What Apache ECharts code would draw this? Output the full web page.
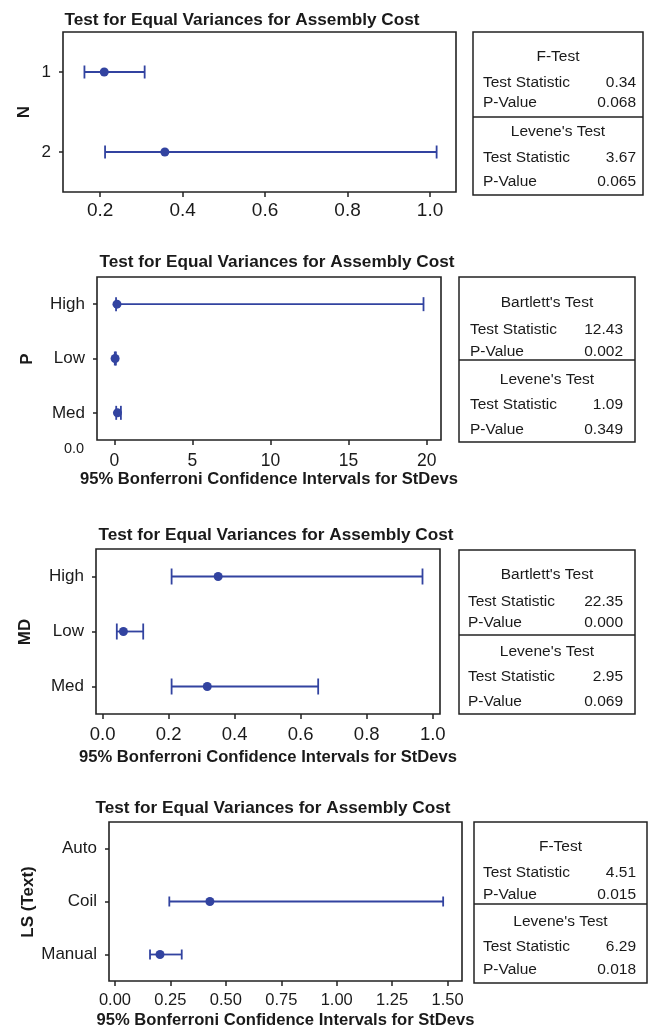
<!DOCTYPE html>
<html>
<head>
<meta charset="utf-8">
<script src="https://cdn.jsdelivr.net/npm/echarts@6/dist/echarts.min.js"></script>
<style>
html,body{margin:0;padding:0;background:#fff;}
#chart{width:651px;height:1030px;}
</style>
</head>
<body>
<div id="chart"></div>
<script>
// ---------- DATA ----------
const chartTitle = 'Test for Equal Variances for Assembly Cost';
const xAxisName = '95% Bonferroni Confidence Intervals for StDevs';

const factorNames = ['N', 'P', 'MD', 'LS (Text)'];

const cats1 = ['1', '2'];
const lower1 = [0.162, 0.212];
const point1 = [0.210, 0.357];
const upper1 = [0.308, 1.016];

const cats2 = ['High', 'Low', 'Med'];
const lower2 = [0.11, 0.03, 0.12];
const point2 = [0.17, 0.05, 0.20];
const upper2 = [19.80, 0.10, 0.42];

const cats3 = ['High', 'Low', 'Med'];
const lower3 = [0.209, 0.043, 0.209];
const point3 = [0.350, 0.063, 0.317];
const upper3 = [0.969, 0.123, 0.653];

const cats4 = ['Auto', 'Coil', 'Manual'];
const lower4 = [null, 0.245, 0.158];
const point4 = [null, 0.428, 0.203];
const upper4 = [null, 1.480, 0.301];

const xTicks1 = [0.2, 0.4, 0.6, 0.8, 1.0];
const xTickLabels1 = ['0.2', '0.4', '0.6', '0.8', '1.0'];
const xTicks2 = [0, 5, 10, 15, 20];
const xTickLabels2 = ['0', '5', '10', '15', '20'];
const xTicks3 = [0, 0.2, 0.4, 0.6, 0.8, 1.0];
const xTickLabels3 = ['0.0', '0.2', '0.4', '0.6', '0.8', '1.0'];
const xTicks4 = [0, 0.25, 0.5, 0.75, 1.0, 1.25, 1.5];
const xTickLabels4 = ['0.00', '0.25', '0.50', '0.75', '1.00', '1.25', '1.50'];

const testNames1 = ['F-Test', "Levene's Test"];
const testStats1 = ['0.34', '0.068', '3.67', '0.065'];
const testNames2 = ["Bartlett's Test", "Levene's Test"];
const testStats2 = ['12.43', '0.002', '1.09', '0.349'];
const testNames3 = ["Bartlett's Test", "Levene's Test"];
const testStats3 = ['22.35', '0.000', '2.95', '0.069'];
const testNames4 = ['F-Test', "Levene's Test"];
const testStats4 = ['4.51', '0.015', '6.29', '0.018'];
const rowLabels = ['Test Statistic', 'P-Value'];

// ---------- LAYOUT / STYLE ----------
const FONT = "'Liberation Sans', Arial, Helvetica, sans-serif";
const BLUE = '#3243a0';
const DARK = '#222';

const panels = [
  {cats: cats1, lo: lower1, pt: point1, hi: upper1, ticks: xTicks1, labels: xTickLabels1,
   grid: {left: 63, top: 32, width: 393, height: 160}, min: 0.11, max: 1.063,
   cap: 13, labelMargin: 9, tickFont: 19, showName: false, nameGap: 0,
   title: {x: 242, y: 20}, yname: {x: 24, y: 112}},
  {cats: cats2, lo: lower2, pt: point2, hi: upper2, ticks: xTicks2, labels: xTickLabels2,
   grid: {left: 97, top: 277, width: 344, height: 163}, min: -1.11, max: 20.92,
   cap: 14, labelMargin: 12, tickFont: 17.5, showName: true, nameGap: 29,
   title: {x: 277, y: 262}, yname: {x: 27, y: 359}},
  {cats: cats3, lo: lower3, pt: point3, hi: upper3, ticks: xTicks3, labels: xTickLabels3,
   grid: {left: 96, top: 549, width: 344, height: 165}, min: -0.02, max: 1.022,
   cap: 16, labelMargin: 11, tickFont: 18.5, showName: true, nameGap: 35,
   title: {x: 276, y: 535}, yname: {x: 25, y: 632}},
  {cats: cats4, lo: lower4, pt: point4, hi: upper4, ticks: xTicks4, labels: xTickLabels4,
   grid: {left: 109, top: 822, width: 353, height: 161}, min: -0.027, max: 1.565,
   cap: 10, labelMargin: 11, tickFont: 16.5, showName: true, nameGap: 31,
   title: {x: 273, y: 808}, yname: {x: 28, y: 902}}
];

const boxes = [
  {names: testNames1, stats: testStats1, x: 473, y: 32, w: 170, h: 163, padL: 10, padR: 7,
   rows: [25, 51, 71, 85, 100, 126, 150]},
  {names: testNames2, stats: testStats2, x: 459, y: 277, w: 176, h: 165, padL: 11, padR: 12,
   rows: [26, 53, 75, 83, 103, 128, 153]},
  {names: testNames3, stats: testStats3, x: 459, y: 550, w: 176, h: 164, padL: 9, padR: 12,
   rows: [25, 52, 73, 85, 102, 127, 152]},
  {names: testNames4, stats: testStats4, x: 474, y: 822, w: 173, h: 161, padL: 9, padR: 11,
   rows: [25, 51, 73, 82, 100, 125, 148]}
];

// ---------- BUILD OPTION ----------
const grids = [], xAxes = [], yAxes = [], series = [], graphics = [];

panels.forEach((p, i) => {
  grids.push(Object.assign({show: true, borderColor: DARK, borderWidth: 1.6,
    backgroundColor: 'transparent', containLabel: false}, p.grid));
  xAxes.push({
    type: 'value', gridIndex: i, min: p.min, max: p.max,
    axisLine: {show: false, onZero: false},
    axisTick: {show: true, length: 5, customValues: p.ticks, lineStyle: {color: DARK, width: 1.5}},
    axisLabel: {
      customValues: p.ticks, margin: p.labelMargin, color: '#1a1a1a',
      fontFamily: FONT, fontSize: p.tickFont,
      formatter: (v) => {
        const k = p.ticks.findIndex(t => Math.abs(t - v) < 1e-9);
        return k >= 0 ? p.labels[k] : '';
      }
    },
    splitLine: {show: false},
    name: p.showName ? xAxisName : '',
    nameLocation: 'middle', nameGap: p.nameGap,
    nameTextStyle: {fontFamily: FONT, fontSize: 16.6, fontWeight: 'bold', color: '#1a1a1a'}
  });
  yAxes.push({
    type: 'category', gridIndex: i, data: p.cats, inverse: true,
    axisLine: {show: false, onZero: false},
    axisTick: {show: true, alignWithLabel: true, length: 4, lineStyle: {color: DARK, width: 1.5}},
    axisLabel: {margin: 12, color: '#1a1a1a', fontFamily: FONT, fontSize: 17},
    splitLine: {show: false}
  });

  const barData = [], ptData = [];
  p.cats.forEach((c, k) => {
    if (p.lo[k] != null) barData.push([p.lo[k], p.hi[k], k]);
    if (p.pt[k] != null) ptData.push([p.pt[k], k]);
  });
  const capH = p.cap;
  series.push({
    type: 'custom', xAxisIndex: i, yAxisIndex: i, z: 2,
    encode: {x: [0, 1], y: 2},
    data: barData,
    renderItem: (params, api) => {
      const a = api.coord([api.value(0), api.value(2)]);
      const b = api.coord([api.value(1), api.value(2)]);
      const st = {stroke: BLUE, lineWidth: 1.8};
      return {
        type: 'group',
        children: [
          {type: 'line', shape: {x1: a[0], y1: a[1], x2: b[0], y2: b[1]}, style: st},
          {type: 'line', shape: {x1: a[0], y1: a[1] - capH / 2, x2: a[0], y2: a[1] + capH / 2}, style: st},
          {type: 'line', shape: {x1: b[0], y1: b[1] - capH / 2, x2: b[0], y2: b[1] + capH / 2}, style: st}
        ]
      };
    }
  });
  series.push({
    type: 'scatter', xAxisIndex: i, yAxisIndex: i, z: 3,
    symbol: 'circle', symbolSize: 9,
    itemStyle: {color: BLUE, opacity: 1},
    data: ptData
  });

  graphics.push({
    type: 'text', x: p.title.x, y: p.title.y,
    style: {text: chartTitle, fontFamily: FONT, fontSize: 17.2, fontWeight: 'bold',
      fill: '#1a1a1a', align: 'center', verticalAlign: 'middle'}
  });
  graphics.push({
    type: 'text', x: p.yname.x, y: p.yname.y, rotation: Math.PI / 2,
    style: {text: factorNames[i], fontFamily: FONT, fontSize: 17, fontWeight: 'bold',
      fill: '#1a1a1a', align: 'center', verticalAlign: 'middle'}
  });
});

// stray "0.0" label seen in the second panel
graphics.push({
  type: 'text', x: 74, y: 449,
  style: {text: '0.0', fontFamily: FONT, fontSize: 14.5, fill: '#1a1a1a',
    align: 'center', verticalAlign: 'middle'}
});

boxes.forEach((b) => {
  graphics.push({
    type: 'rect', shape: {x: b.x, y: b.y, width: b.w, height: b.h},
    style: {fill: '#fff', stroke: DARK, lineWidth: 1.5}, z: 1
  });
  graphics.push({
    type: 'line', shape: {x1: b.x, y1: b.y + b.rows[3], x2: b.x + b.w, y2: b.y + b.rows[3]},
    style: {stroke: DARK, lineWidth: 1.5}, z: 2
  });
  const ts = {fontFamily: FONT, fontSize: 15.5, fill: '#1a1a1a', verticalAlign: 'middle'};
  const cx = b.x + b.w / 2;
  const L = b.x + b.padL, R = b.x + b.w - b.padR;
  const add = (x, y, text, align) => graphics.push({type: 'text', x: x, y: y, z: 3,
    style: Object.assign({}, ts, {text: text, align: align})});
  add(cx, b.y + b.rows[0], b.names[0], 'center');
  add(L, b.y + b.rows[1], rowLabels[0], 'left');
  add(R, b.y + b.rows[1], b.stats[0], 'right');
  add(L, b.y + b.rows[2], rowLabels[1], 'left');
  add(R, b.y + b.rows[2], b.stats[1], 'right');
  add(cx, b.y + b.rows[4], b.names[1], 'center');
  add(L, b.y + b.rows[5], rowLabels[0], 'left');
  add(R, b.y + b.rows[5], b.stats[2], 'right');
  add(L, b.y + b.rows[6], rowLabels[1], 'left');
  add(R, b.y + b.rows[6], b.stats[3], 'right');
});

const chart = echarts.init(document.getElementById('chart'), null, {renderer: 'canvas'});
chart.setOption({
  animation: false,
  backgroundColor: '#fff',
  grid: grids,
  xAxis: xAxes,
  yAxis: yAxes,
  series: series,
  graphic: graphics
});
</script>
</body>
</html>
